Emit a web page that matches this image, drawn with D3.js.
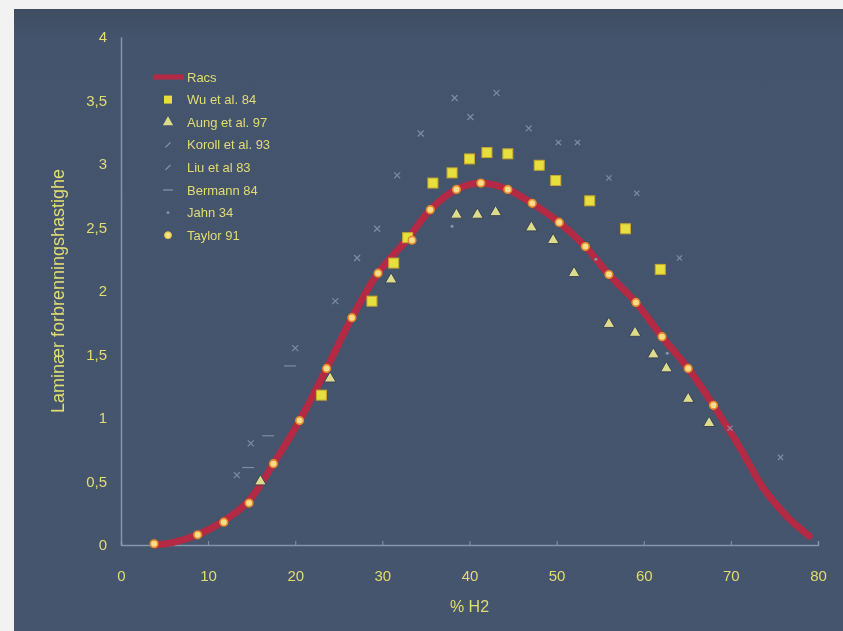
<!DOCTYPE html>
<html>
<head>
<meta charset="utf-8">
<script src="https://cdn.jsdelivr.net/npm/d3@7"></script>
<style>
  body { margin: 0; background: #f4f4f4; }
  svg { display: block; font-family: "Liberation Sans", Arial, sans-serif; }
</style>
</head>
<body>
<div id="chart"></div>
<script>
// data
var racs = [[4,0],[6,0.02],[8.8,0.08],[11.8,0.19],[14.7,0.35],[17.5,0.64],[20.5,0.98],[23.6,1.39],
  [26.5,1.79],[29.5,2.14],[33,2.42],[35.5,2.64],[38.5,2.8],[41.3,2.85],[44.4,2.8],[47.2,2.69],
  [50.3,2.54],[53.3,2.35],[56,2.13],[59.1,1.91],[62.1,1.64],[65.1,1.39],[68,1.1],[71.1,0.76],
  [73.7,0.45],[76.5,0.22],[78.3,0.11],[79,0.07]];
var wu = [[23,1.18],[28.8,1.92],[31.3,2.22],[32.9,2.42],[35.8,2.85],[38,2.93],[40,3.04],[42,3.09],
  [44.4,3.08],[48,2.99],[49.9,2.87],[53.8,2.71],[57.9,2.49],[61.9,2.17]];
var aung = [[16,0.5],[24,1.31],[31,2.09],[38.5,2.6],[40.9,2.6],[43,2.62],[47.1,2.5],[49.6,2.4],
  [52,2.14],[56,1.74],[59,1.67],[61.1,1.5],[62.6,1.39],[65.1,1.15],[67.5,0.96]];
var koroll = [[13.3,0.55],[14.9,0.8],[20,1.55],[24.6,1.92],[27.1,2.26],[29.4,2.49],[31.7,2.91],
  [34.4,3.24],[38.3,3.52],[40.1,3.37],[43.1,3.56],[46.8,3.28]];
var liu = [[50.2,3.17],[52.4,3.17],[56,2.89],[59.2,2.77],[64.1,2.26],[69.9,0.92],[75.7,0.69]];
var bermann = [[14.6,0.61],[16.9,0.86],[19.4,1.41]];
var jahn = [[38,2.51],[54.5,2.25],[62.7,1.51]];
var taylor = [[3.8,0.01],[8.8,0.08],[11.8,0.18],[14.7,0.33],[17.5,0.64],[20.5,0.98],[23.6,1.39],
  [26.5,1.79],[29.5,2.14],[33.4,2.4],[35.5,2.64],[38.5,2.8],[41.3,2.85],[44.4,2.8],[47.2,2.69],
  [50.3,2.54],[53.3,2.35],[56,2.13],[59.1,1.91],[62.1,1.64],[65.1,1.39],[68,1.1]];

var legendNames = ["Racs","Wu et al. 84","Aung et al. 97","Koroll et al. 93","Liu et al 83","Bermann 84","Jahn 34","Taylor 91"];
var xTicks = [0,10,20,30,40,50,60,70,80];
var yTicks = [0,0.5,1,1.5,2,2.5,3,3.5,4];

var W = 843, H = 631;
var textCol = "#e2dc72", axisCol = "#8795aa", grayMark = "#8797ad";

var svg = d3.select("#chart").append("svg")
    .attr("width", W).attr("height", H);

var defs = svg.append("defs");
var grad = defs.append("linearGradient").attr("id", "bg").attr("x1", 0).attr("y1", 0).attr("x2", 0).attr("y2", 1);
grad.append("stop").attr("offset", 0).attr("stop-color", "#3f4d62");
grad.append("stop").attr("offset", 0.05).attr("stop-color", "#44546c");
grad.append("stop").attr("offset", 1).attr("stop-color", "#45556d");
defs.append("filter").attr("id", "soft")
  .append("feGaussianBlur").attr("stdDeviation", 0.6);

// photographed slide: white strip on top and left
svg.append("rect").attr("width", W).attr("height", H).attr("fill", "#f2f2f2");
svg.append("rect").attr("x", 14).attr("y", 9).attr("width", W - 14).attr("height", H - 9).attr("fill", "url(#bg)");

var x = d3.scaleLinear().domain([0, 80]).range([121, 818]);
var y = d3.scaleLinear().domain([0, 4]).range([545, 37]);

var g = svg.append("g").attr("filter", "url(#soft)");

// axes
var xa = g.append("g").attr("transform", "translate(0,545)")
  .call(d3.axisBottom(x).tickValues(xTicks).tickSize(-4).tickPadding(25));
var ya = g.append("g").attr("transform", "translate(121,0)")
  .call(d3.axisLeft(y).tickValues(yTicks).tickSize(0).tickPadding(12)
    .tickFormat(function (d) { return String(d).replace(".", ","); }));
[xa, ya].forEach(function (a) {
  a.select(".domain").attr("stroke", axisCol).attr("stroke-width", 1.5);
  a.selectAll(".tick line").attr("stroke", axisCol);
  a.selectAll(".tick text").attr("fill", textCol).style("font-size", "15px");
});
ya.selectAll(".tick text").attr("dx", "-2");

g.append("text")
  .attr("x", x(40)).attr("y", 612)
  .attr("text-anchor", "middle").attr("fill", textCol)
  .style("font-size", "16px")
  .text("% H2");
g.append("text")
  .attr("transform", "translate(64," + y(2) + ") rotate(-90)")
  .attr("text-anchor", "middle").attr("fill", textCol)
  .style("font-size", "18px")
  .text("Laminær forbrenningshastighe");

// Racs curve
var line = d3.line().x(function (d) { return x(d[0]); }).y(function (d) { return y(d[1]); })
  .curve(d3.curveCatmullRom);
g.append("path").datum(racs)
  .attr("d", line).attr("fill", "none")
  .attr("stroke", "#b42a44").attr("stroke-width", 7).attr("stroke-linecap", "round");

// gray marks
function cross(sel, data, size) {
  sel.selectAll(null).data(data).enter().append("path")
    .attr("d", function (d) {
      var cx = x(d[0]), cy = y(d[1]);
      return "M" + (cx - size) + "," + (cy - size) + "L" + (cx + size) + "," + (cy + size) +
             "M" + (cx - size) + "," + (cy + size) + "L" + (cx + size) + "," + (cy - size);
    })
    .attr("stroke", grayMark).attr("stroke-width", 1.2).attr("fill", "none").attr("opacity", 0.85);
}
cross(g.append("g"), koroll, 3);
cross(g.append("g"), liu, 2.6);
g.append("g").selectAll("line").data(bermann).enter().append("line")
  .attr("x1", function (d) { return x(d[0]) - 6; }).attr("x2", function (d) { return x(d[0]) + 6; })
  .attr("y1", function (d) { return y(d[1]); }).attr("y2", function (d) { return y(d[1]); })
  .attr("stroke", grayMark).attr("stroke-width", 1.2).attr("opacity", 0.85);
g.append("g").selectAll("circle").data(jahn).enter().append("circle")
  .attr("cx", function (d) { return x(d[0]); }).attr("cy", function (d) { return y(d[1]); })
  .attr("r", 1.5).attr("fill", grayMark);

// Wu squares
g.append("g").selectAll("rect").data(wu).enter().append("rect")
  .attr("x", function (d) { return x(d[0]) - 5; }).attr("y", function (d) { return y(d[1]) - 5; })
  .attr("width", 10).attr("height", 10)
  .attr("fill", "#e6df3e").attr("stroke", "#c9a82c").attr("stroke-width", 1);

// Aung triangles
var tri = d3.symbol().type(d3.symbolTriangle).size(60);
g.append("g").selectAll("path").data(aung).enter().append("path")
  .attr("d", tri)
  .attr("transform", function (d) { return "translate(" + x(d[0]) + "," + y(d[1]) + ")"; })
  .attr("fill", "#dcdc8c").attr("stroke", "#3a4456").attr("stroke-width", 1);

// Taylor circles
g.append("g").selectAll("circle").data(taylor).enter().append("circle")
  .attr("cx", function (d) { return x(d[0]); }).attr("cy", function (d) { return y(d[1]); })
  .attr("r", 3.8).attr("fill", "#f7dc8a").attr("stroke", "#e58a2c").attr("stroke-width", 1.6);

// legend
var lg = g.append("g").attr("transform", "translate(0,77)");
var rowH = 22.6;
legendNames.forEach(function (name, i) {
  var ly = i * rowH, lx = 168;
  if (i === 0) {
    lg.append("line").attr("x1", 153).attr("x2", 184).attr("y1", ly).attr("y2", ly)
      .attr("stroke", "#b42a44").attr("stroke-width", 5);
  } else if (i === 1) {
    lg.append("rect").attr("x", lx - 4).attr("y", ly - 4).attr("width", 8).attr("height", 8)
      .attr("fill", "#e6df3e");
  } else if (i === 2) {
    lg.append("path").attr("d", d3.symbol().type(d3.symbolTriangle).size(45))
      .attr("transform", "translate(" + lx + "," + ly + ")").attr("fill", "#dcdc8c");
  } else if (i === 3 || i === 4) {
    lg.append("path").attr("d", "M" + (lx - 2.5) + "," + (ly + 2.5) + "L" + (lx + 2.5) + "," + (ly - 2.5))
      .attr("stroke", grayMark).attr("stroke-width", 1.2);
  } else if (i === 5) {
    lg.append("line").attr("x1", lx - 5).attr("x2", lx + 5).attr("y1", ly).attr("y2", ly)
      .attr("stroke", grayMark).attr("stroke-width", 1.2);
  } else if (i === 6) {
    lg.append("circle").attr("cx", lx).attr("cy", ly).attr("r", 1.4).attr("fill", grayMark);
  } else {
    lg.append("circle").attr("cx", lx).attr("cy", ly).attr("r", 3.5)
      .attr("fill", "#f5e27a").attr("stroke", "#d9b94a");
  }
  lg.append("text").attr("x", 187).attr("y", ly).attr("dy", "0.35em")
    .attr("fill", textCol).style("font-size", "13px").text(name);
});
</script>
</body>
</html>
